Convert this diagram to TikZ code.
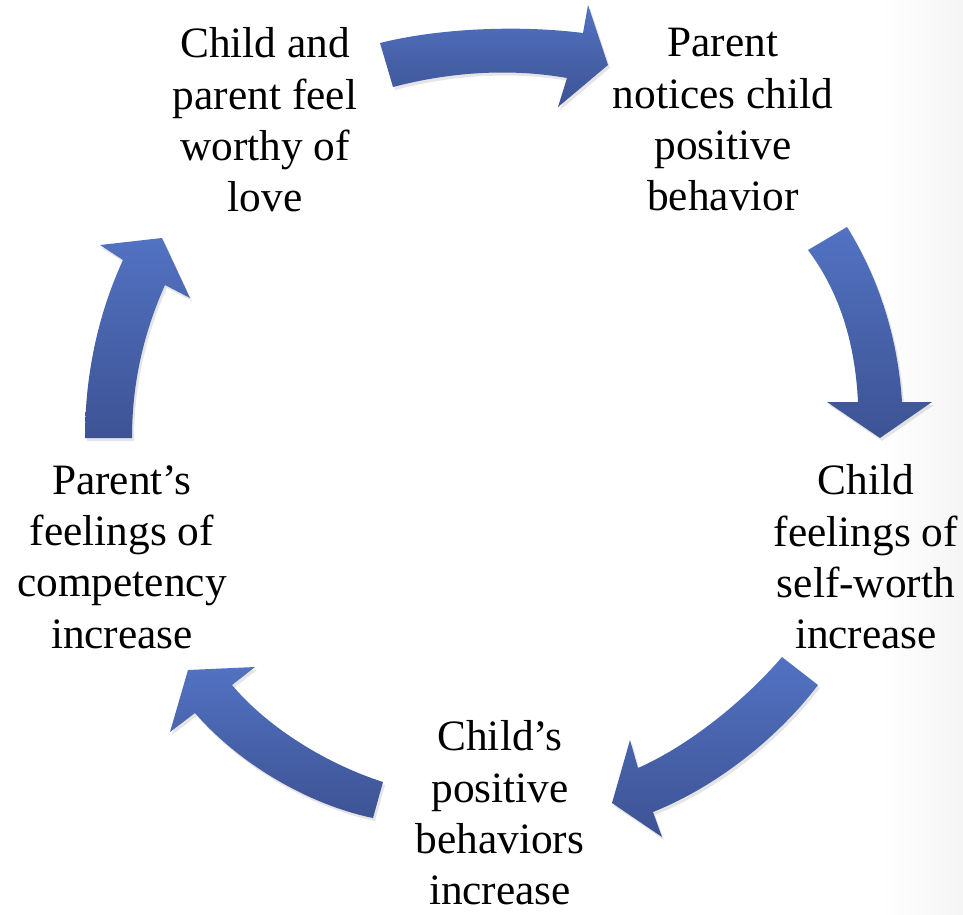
\documentclass[tikz,border=0pt]{standalone}
\usepackage{fontspec}
\setmainfont{Liberation Serif}
\definecolor{arrowlight}{RGB}{82,114,194}
\definecolor{arrowdark}{RGB}{61,83,148}
\begin{document}
\begin{tikzpicture}[x=0.75pt,y=-0.75pt,
  label/.style={align=center,text=black,inner sep=0pt,
    font=\fontsize{32.5}{38.5}\selectfont},
  blockarrow/.style={shading=axis,top color=arrowlight,bottom color=arrowdark,draw=none},
  arrowshadow/.style={fill=black,opacity=0.1,draw=none}]
\useasboundingbox (0,0) rectangle (963,914);
\fill[white] (0,0) rectangle (963,914);
\shade[left color=white,right color=black!4,draw=none] (880,0) rectangle (963,914);

\node[label] (love) at (265,120) {Child and\\parent feel\\worthy of\\love};
\node[label] (notice) at (723,120) {Parent\\notices child\\positive\\behavior};
\node[label] (worth) at (866,557) {Child\\feelings of\\self-worth\\increase};
\node[label] (behav) at (500,813) {Child’s\\positive\\behaviors\\increase};
\node[label] (compet) at (122,557) {Parent’s\\feelings of\\competency\\increase};

% shadows
\begin{scope}[shift={(2,3)}]
\path[arrowshadow] (380,43) .. controls (440,28) and (520,25) .. (583,33) -- (588,5) -- (608,65) -- (558,107) -- (567,78) .. controls (510,68) and (450,72) .. (393,87) -- cycle;
\path[arrowshadow] (847,227) .. controls (880,280) and (898,340) .. (902,402) -- (932,402) -- (880,438) -- (827,402) -- (858,402) .. controls (855,340) and (838,290) .. (808,250) -- cycle;
\path[arrowshadow] (782,657) .. controls (745,700) and (690,745) .. (638,768) -- (630,740) -- (612,803) -- (662,837) -- (653,812) .. controls (720,785) and (780,735) .. (818,685) -- cycle;
\path[arrowshadow] (383,782) .. controls (330,765) and (270,730) .. (232,685) -- (255,667) -- (188,670) -- (170,732) -- (195,713) .. controls (240,765) and (310,805) .. (373,818) -- cycle;
\path[arrowshadow] (85,438) .. controls (85,370) and (100,310) .. (123,260) -- (100,245) -- (162,238) -- (190,298) -- (165,285) .. controls (145,330) and (132,380) .. (132,438) -- cycle;
\end{scope}

% top arrow: love -> notice
\path[blockarrow] (380,43) .. controls (440,28) and (520,25) .. (583,33) -- (588,5) -- (608,65) -- (558,107) -- (567,78) .. controls (510,68) and (450,72) .. (393,87) -- cycle;
% right arrow: notice -> worth
\path[blockarrow] (847,227) .. controls (880,280) and (898,340) .. (902,402) -- (932,402) -- (880,438) -- (827,402) -- (858,402) .. controls (855,340) and (838,290) .. (808,250) -- cycle;
% bottom-right arrow: worth -> behav
\path[blockarrow] (782,657) .. controls (745,700) and (690,745) .. (638,768) -- (630,740) -- (612,803) -- (662,837) -- (653,812) .. controls (720,785) and (780,735) .. (818,685) -- cycle;
% bottom-left arrow: behav -> compet
\path[blockarrow] (383,782) .. controls (330,765) and (270,730) .. (232,685) -- (255,667) -- (188,670) -- (170,732) -- (195,713) .. controls (240,765) and (310,805) .. (373,818) -- cycle;
% left arrow: compet -> love
\path[blockarrow] (85,438) .. controls (85,370) and (100,310) .. (123,260) -- (100,245) -- (162,238) -- (190,298) -- (165,285) .. controls (145,330) and (132,380) .. (132,438) -- cycle;
\end{tikzpicture}
\end{document}
